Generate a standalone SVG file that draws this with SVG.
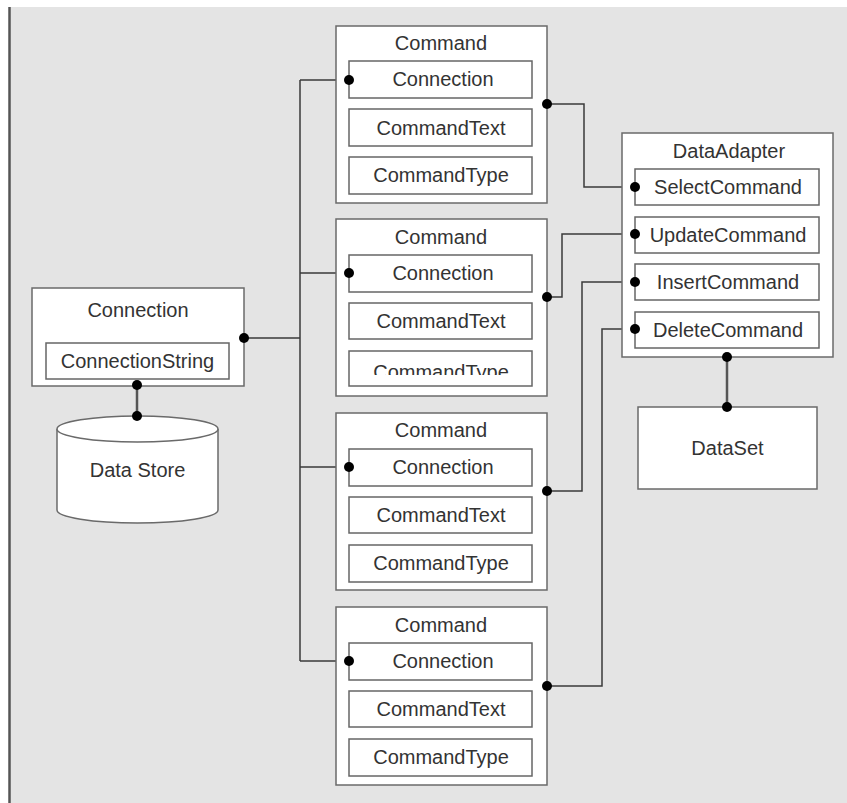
<svg xmlns="http://www.w3.org/2000/svg" width="847" height="803" viewBox="0 0 847 803">
  <defs>
    <style>
      .box { fill: #ffffff; stroke: #6a6a6a; stroke-width: 1.5; }
      .inner { fill: #ffffff; stroke: #666666; stroke-width: 1.5; }
      .lbl { font-family: "Liberation Sans", Arial, sans-serif; font-size: 20px; fill: #333333; text-anchor: middle; }
      .wire { fill: none; stroke: #3a3a3a; stroke-width: 1.5; }
      .thick { fill: none; stroke: #555555; stroke-width: 2.5; }
      .dot { fill: #000000; }
    </style>
    <clipPath id="clipType2">
      <rect x="349" y="351" width="183" height="24"/>
    </clipPath>
  </defs>

  <!-- page -->
  <rect x="0" y="0" width="847" height="803" fill="#ffffff"/>
  <rect x="10" y="7" width="837" height="796" fill="#e4e4e4"/>
  <line x1="9.5" y1="7" x2="9.5" y2="803" stroke="#555555" stroke-width="2.5"/>

  <!-- connectors -->
  <g id="connectors">
    <!-- connection bus -->
    <polyline class="wire" points="244,338 300,338"/>
    <line class="wire" x1="300" y1="80" x2="300" y2="661"/>
    <polyline class="wire" points="300,80 349,80"/>
    <polyline class="wire" points="300,273 349,273"/>
    <polyline class="wire" points="300,467 349,467"/>
    <polyline class="wire" points="300,661 349,661"/>
    <!-- commands to adapter -->
    <polyline class="wire" points="547,104 584,104 584,187 635,187"/>
    <polyline class="wire" points="547,297 562,297 562,234 635,234"/>
    <polyline class="wire" points="547,491 582,491 582,282 635,282"/>
    <polyline class="wire" points="547,686 602,686 602,329 635,329"/>
    <!-- vertical links -->
    <line class="thick" x1="137" y1="385" x2="137" y2="416"/>
    <line class="thick" x1="727" y1="357" x2="727" y2="407"/>
  </g>

  <!-- Connection -->
  <g id="connection">
    <rect class="box" x="32" y="288" width="212" height="98"/>
    <text class="lbl" x="138" y="317">Connection</text>
    <rect class="inner" x="46" y="343" width="183" height="36"/>
    <text class="lbl" x="137.5" y="368">ConnectionString</text>
  </g>

  <!-- Data Store -->
  <g id="datastore">
    <path class="box" d="M57,429 A80.5,13 0 0 1 218,429 L218,510 A80.5,13 0 0 1 57,510 Z"/>
    <path class="box" d="M57,429 A80.5,13 0 0 0 218,429"/>
    <text class="lbl" x="137.5" y="477">Data Store</text>
  </g>

  <!-- Command 1 -->
  <g id="command1">
    <rect class="box" x="336" y="26" width="211" height="177"/>
    <text class="lbl" x="441" y="50">Command</text>
    <rect class="inner" x="349" y="61" width="183" height="37"/>
    <text class="lbl" x="443" y="86">Connection</text>
    <rect class="inner" x="349" y="109" width="183" height="37"/>
    <text class="lbl" x="441" y="135">CommandText</text>
    <rect class="inner" x="349" y="157" width="183" height="37"/>
    <text class="lbl" x="441" y="182">CommandType</text>
  </g>

  <!-- Command 2 -->
  <g id="command2">
    <rect class="box" x="336" y="219" width="211" height="177"/>
    <text class="lbl" x="441" y="244">Command</text>
    <rect class="inner" x="349" y="255" width="183" height="37"/>
    <text class="lbl" x="443" y="280">Connection</text>
    <rect class="inner" x="349" y="303" width="183" height="36"/>
    <text class="lbl" x="441" y="328">CommandText</text>
    <rect class="inner" x="349" y="351" width="183" height="35"/>
    <text class="lbl" x="441" y="379" clip-path="url(#clipType2)">CommandType</text>
  </g>

  <!-- Command 3 -->
  <g id="command3">
    <rect class="box" x="336" y="413" width="211" height="177"/>
    <text class="lbl" x="441" y="437">Command</text>
    <rect class="inner" x="349" y="449" width="183" height="37"/>
    <text class="lbl" x="443" y="474">Connection</text>
    <rect class="inner" x="349" y="497" width="183" height="36"/>
    <text class="lbl" x="441" y="522">CommandText</text>
    <rect class="inner" x="349" y="545" width="183" height="37"/>
    <text class="lbl" x="441" y="570">CommandType</text>
  </g>

  <!-- Command 4 -->
  <g id="command4">
    <rect class="box" x="336" y="607" width="211" height="178"/>
    <text class="lbl" x="441" y="632">Command</text>
    <rect class="inner" x="349" y="643" width="183" height="37"/>
    <text class="lbl" x="443" y="668">Connection</text>
    <rect class="inner" x="349" y="691" width="183" height="36"/>
    <text class="lbl" x="441" y="716">CommandText</text>
    <rect class="inner" x="349" y="739" width="183" height="37"/>
    <text class="lbl" x="441" y="764">CommandType</text>
  </g>

  <!-- DataAdapter -->
  <g id="dataadapter">
    <rect class="box" x="622" y="133" width="211" height="224"/>
    <text class="lbl" x="729" y="158">DataAdapter</text>
    <rect class="inner" x="635" y="169" width="184" height="36"/>
    <text class="lbl" x="728" y="194">SelectCommand</text>
    <rect class="inner" x="635" y="217" width="184" height="36"/>
    <text class="lbl" x="728" y="242">UpdateCommand</text>
    <rect class="inner" x="635" y="264" width="184" height="36"/>
    <text class="lbl" x="728" y="289">InsertCommand</text>
    <rect class="inner" x="635" y="312" width="184" height="36"/>
    <text class="lbl" x="728" y="337">DeleteCommand</text>
  </g>

  <!-- DataSet -->
  <g id="dataset">
    <rect class="box" x="638" y="407" width="179" height="82"/>
    <text class="lbl" x="727.5" y="455">DataSet</text>
  </g>

  <!-- junction dots -->
  <g id="dots" class="dot">
    <circle cx="244" cy="338" r="5"/>
    <circle cx="137" cy="385" r="5"/>
    <circle cx="137" cy="416" r="5"/>
    <circle cx="349" cy="80" r="5"/>
    <circle cx="349" cy="273" r="5"/>
    <circle cx="349" cy="467" r="5"/>
    <circle cx="349" cy="661" r="5"/>
    <circle cx="547" cy="104" r="5"/>
    <circle cx="547" cy="297" r="5"/>
    <circle cx="547" cy="491" r="5"/>
    <circle cx="547" cy="686" r="5"/>
    <circle cx="635" cy="187" r="5"/>
    <circle cx="635" cy="234" r="5"/>
    <circle cx="635" cy="282" r="5"/>
    <circle cx="635" cy="329" r="5"/>
    <circle cx="727" cy="357" r="5"/>
    <circle cx="727" cy="407" r="5"/>
  </g>
</svg>
